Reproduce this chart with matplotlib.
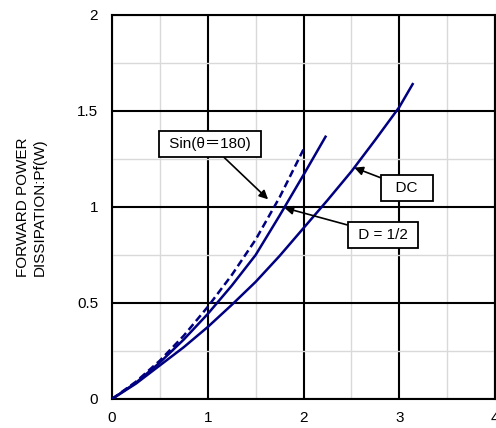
import numpy as np
import matplotlib.pyplot as plt
from matplotlib.ticker import MultipleLocator

plt.rcParams['font.family'] = ['Liberation Sans', 'DejaVu Sans', 'Noto Sans CJK JP']

# Data
dc_x = [0, 0.25, 0.5, 0.75, 1.0, 1.25, 1.5, 1.75, 2.0, 2.25, 2.5, 2.75, 3.0, 3.14]
dc_y = [0, 0.08, 0.175, 0.27, 0.375, 0.49, 0.61, 0.745, 0.89, 1.035, 1.185, 1.35, 1.52, 1.64]

half_x = [0, 0.25, 0.5, 0.75, 1.0, 1.25, 1.5, 1.75, 2.0, 2.23]
half_y = [0, 0.085, 0.19, 0.31, 0.443, 0.59, 0.75, 0.955, 1.167, 1.366]

sin_x = [0, 0.25, 0.5, 0.75, 1.0, 1.25, 1.5, 1.75, 2.0]
sin_y = [0, 0.09, 0.20, 0.33, 0.48, 0.645, 0.83, 1.05, 1.30]

x_ticks = [0, 1, 2, 3, 4]
y_ticks = [0, 0.5, 1, 1.5, 2]
y_tick_labels = ['0', '0.5', '1', '1.5', '2']

fig = plt.figure(figsize=(4.96, 4.28), dpi=100)
ax = fig.add_axes([112 / 496, 29 / 428, 383 / 496, 384 / 428])

line_color = '#000080'
ax.plot(dc_x, dc_y, color=line_color, lw=1.8, zorder=3)
ax.plot(half_x, half_y, color=line_color, lw=1.8, zorder=3)
ax.plot(sin_x, sin_y, color=line_color, lw=1.8, ls=(0, (3, 1.6)), zorder=3)

ax.set_xlim(0, 4)
ax.set_ylim(0, 2)
ax.set_xticks(x_ticks)
ax.set_yticks(y_ticks)
ax.set_yticklabels(y_tick_labels)
ax.xaxis.set_minor_locator(MultipleLocator(0.5))
ax.yaxis.set_minor_locator(MultipleLocator(0.25))
ax.grid(True, which='minor', color='#d9d9d9', lw=1.0, zorder=0)
ax.grid(True, which='major', color='black', lw=1.5, zorder=1)
ax.tick_params(which='both', length=0, labelsize=11)
ax.tick_params(axis='y', pad=10)
ax.tick_params(axis='x', pad=9)
for s in ax.spines.values():
    s.set_linewidth(1.5)
    s.set_color('black')

ax.set_ylabel('FORWARD POWER\nDISSIPATION:Pf(W)', fontsize=11, labelpad=22,
              linespacing=1.2)

box = dict(boxstyle='square,pad=0.4', fc='white', ec='black', lw=1.3)
arrow = dict(arrowstyle='-|>', color='black', lw=1.2, mutation_scale=13,
             shrinkA=0, shrinkB=0)
ax.annotate(' Sin(θ＝180) ', xy=(1.63, 1.04), xytext=(1.02, 1.33),
            ha='center', va='center', fontsize=11, bbox=box,
            arrowprops=arrow, zorder=5)
ax.annotate('  DC  ', xy=(2.53, 1.205), xytext=(3.08, 1.10),
            ha='center', va='center', fontsize=11, bbox=box,
            arrowprops=arrow, zorder=5)
ax.annotate(' D = 1/2 ', xy=(1.80, 0.996), xytext=(2.83, 0.856),
            ha='center', va='center', fontsize=11, bbox=box,
            arrowprops=arrow, zorder=5)

plt.savefig('out.png', dpi=100)
